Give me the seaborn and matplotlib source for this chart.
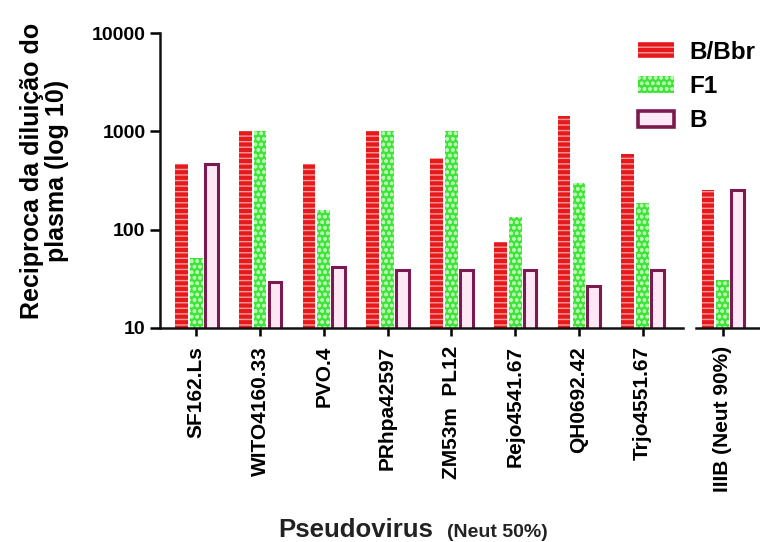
import matplotlib
matplotlib.use("Agg")
import matplotlib.pyplot as plt
from matplotlib.patches import Patch
import seaborn as sns
import pandas as pd

# Data (reciprocal plasma dilution, log scale)
VIRUSES = ['SF162.Ls', 'WITO4160.33', 'PVO.4', 'PRhpa42597', 'ZM53m  PL12',
           'Rejo4541.67', 'QH0692.42', 'Trjo4551.67']
BBR = [470, 1000, 470, 1000, 540, 74, 1440, 590]
F1 = [52, 1000, 157, 1000, 1000, 133, 295, 185]
B = [470, 29, 42, 39, 39, 39, 27, 39]

IIIB_LABEL = ['IIIB (Neut 90%)']
IIIB_BBR = [256]
IIIB_F1 = [31]
IIIB_B = [256]

GROUPS = ['B/Bbr', 'F1', 'B']
YTICKS = [10, 100, 1000, 10000]

RED, GREEN = '#e41a1c', '#3ee43a'
RED_HATCH, GREEN_HATCH = '#ff9a9a', '#b8f8b0'
PURPLE, PINK = '#7a1a4e', '#ffe8f6'

plt.rcParams['font.family'] = ['Liberation Sans', 'DejaVu Sans']
plt.rcParams['hatch.linewidth'] = 1.0


def make_df(names, bbr, f1, b):
    rows = []
    for g, vals in zip(GROUPS, [bbr, f1, b]):
        for n, v in zip(names, vals):
            rows.append({'virus': n, 'grupo': g, 'valor': v})
    return pd.DataFrame(rows)


def style_bars(ax):
    # one container per hue level
    for cont, g in zip(ax.containers, GROUPS):
        for p in cont:
            if g == 'B/Bbr':
                p.set_facecolor(RED)
                p.set_edgecolor(RED_HATCH)
                p.set_hatch('---')
                p.set_linewidth(0)
            elif g == 'F1':
                p.set_facecolor(GREEN)
                p.set_edgecolor(GREEN_HATCH)
                p.set_hatch('ooo')
                p.set_linewidth(0)
            else:
                p.set_facecolor(PINK)
                p.set_edgecolor(PURPLE)
                p.set_linewidth(2.2)


def style_axis(ax):
    ax.set_yscale('log')
    ax.set_ylim(10, 10000)
    ax.set_xlabel('')
    ax.set_ylabel('')
    for s in ['top', 'right']:
        ax.spines[s].set_visible(False)
    for s in ['left', 'bottom']:
        ax.spines[s].set_linewidth(1.8)
        ax.spines[s].set_color('#111111')
    ax.tick_params(axis='x', length=6, width=1.8, labelsize=15, labelrotation=90, pad=7)
    ax.tick_params(axis='y', which='major', length=7, width=1.8, labelsize=14)
    ax.tick_params(axis='y', which='minor', length=0)
    for lab in ax.get_xticklabels() + ax.get_yticklabels():
        lab.set_fontweight('bold')


fig = plt.figure(figsize=(7.6, 5.42), dpi=100)
ax = fig.add_axes([0.2105, 0.395, 0.688, 0.544])
ax2 = fig.add_axes([0.9158, 0.395, 0.0842, 0.544])

df = make_df(VIRUSES, BBR, F1, B)
sns.barplot(data=df, x='virus', y='valor', hue='grupo', hue_order=GROUPS,
            width=0.7, gap=0.14, legend=False, ax=ax)
df2 = make_df(IIIB_LABEL, IIIB_BBR, IIIB_F1, IIIB_B)
sns.barplot(data=df2, x='virus', y='valor', hue='grupo', hue_order=GROUPS,
            width=0.7, gap=0.14, legend=False, ax=ax2)

for a in (ax, ax2):
    style_bars(a)
    style_axis(a)

ax.set_yticks(YTICKS)
ax.set_yticklabels([str(t) for t in YTICKS], fontweight='bold')
ax.set_xlim(-0.57, 7.63)

ax2.set_xlim(-0.42, 0.58)
ax2.spines['left'].set_visible(False)
ax2.set_yticks([])
ax2.tick_params(axis='y', which='both', length=0, labelleft=False)

# axis titles
fig.text(0.058, 0.685, 'Reciproca da diluição do\nplasma (log 10)', rotation=90,
         ha='center', va='center', fontsize=18, fontweight='bold', linespacing=1.05)
fig.text(0.5695, 0.010, 'Pseudovirus', ha='right', va='baseline', fontsize=18.5,
         fontweight='bold', color='#222222')
fig.text(0.588, 0.010, '(Neut 50%)', ha='left', va='baseline', fontsize=14,
         fontweight='bold', color='#222222')

handles = [
    Patch(facecolor=RED, edgecolor=RED_HATCH, hatch='---', linewidth=0),
    Patch(facecolor=GREEN, edgecolor=GREEN_HATCH, hatch='ooo', linewidth=0),
    Patch(facecolor=PINK, edgecolor=PURPLE, linewidth=2.6),
]
fig.legend(handles, GROUPS, loc='upper left', bbox_to_anchor=(0.840, 0.925),
           frameon=False, handlelength=1.45, handleheight=0.65,
           handletextpad=0.65, labelspacing=0.47, borderaxespad=0, borderpad=0,
           prop={'size': 17.5, 'weight': 'bold'})

fig.savefig('out.png', dpi=100)
